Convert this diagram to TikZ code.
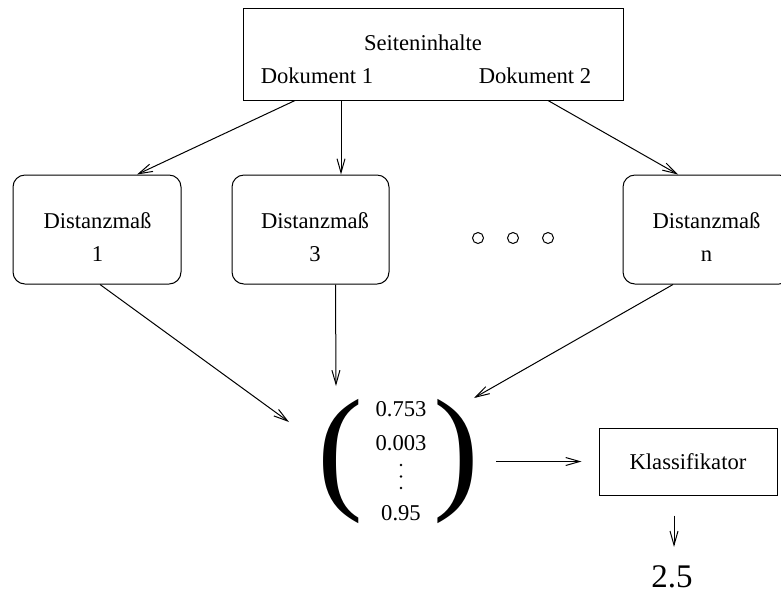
\documentclass[tikz,border=0pt]{standalone}
\usepackage{fontspec}
\setmainfont{Liberation Serif}
\usepackage{tikz}
\usetikzlibrary{arrows.meta}

\begin{document}
\begin{tikzpicture}[x=0.5pt,y=-0.5pt,line width=0.5pt,
    font=\fontsize{11.3}{16.7}\selectfont,
    arr/.style={-{Straight Barb[length=7pt,width=4pt]}},
    dbox/.style={draw,rounded corners=6pt,minimum width=84pt,minimum height=54.5pt,inner sep=0pt},
    sbox/.style={draw,inner sep=0pt},
    txt/.style={inner sep=0pt,align=center}]
    \useasboundingbox (0,0) rectangle (781,591);

    % Seiteninhalte
    \node[sbox,minimum width=190pt,minimum height=46pt] (top) at (433,54) {};
    \node[txt] (seite) at (423,42.5) {Seiteninhalte};
    \node[txt] (dok1) at (317,75.5) {Dokument 1};
    \node[txt] (dok2) at (535,75.5) {Dokument 2};

    % Distanzmasse
    \node[dbox] (d1) at (97,229.5) {};
    \node[dbox,minimum width=78.5pt] (d3) at (310.5,229.5) {};
    \node[dbox] (dn) at (707,229.5) {};
    \node[txt] (d1txt) at (97.5,237.2) {Distanzmaß\\1};
    \node[txt] (d3txt) at (315,237.2) {Distanzmaß\\3};
    \node[txt] (dntxt) at (706.5,237.2) {Distanzmaß\\n};
    \foreach \x in {478,513,548}
        \draw (\x,238) circle (5.5);

    % Vektor
    \node[txt,font=\fontsize{68.6}{70}\selectfont] (lpar) at (340,461.5) {(};
    \node[txt,font=\fontsize{68.6}{70}\selectfont] (rpar) at (456.3,461.5) {)};
    \node[txt] (w1) at (401,409) {0.753};
    \node[txt] (w2) at (401,443) {0.003};
    \node[txt] (wn) at (401,513) {0.95};
    \foreach \y in {465,476.5,488}
        \fill (401,\y) circle (1.3);
    \coordinate (v1) at (289,422);
    \coordinate (v3) at (336,386);
    \coordinate (vn) at (474,398);
    \coordinate (vout) at (496,461.5);

    % Klassifikator
    \node[sbox,minimum width=89pt,minimum height=33.5pt] (klass) at (688,461.5) {Klassifikator};
    \node[txt,font=\fontsize{16.5}{18}\selectfont] (res) at (672,576.5) {2.5};

    % Pfeile
    \draw[arr] ([xshift=-69pt]top.south) -- ([xshift=20pt]d1.north);
    \draw[arr] ([xshift=-46pt]top.south) -- ([xshift=15.25pt]d3.north);
    \draw[arr] ([xshift=57.5pt]top.south) -- ([xshift=-14.5pt]dn.north);
    \draw[arr] ([xshift=1.5pt]d1.south) -- (v1);
    \draw[arr] ([xshift=12.5pt]d3.south) -- (v3);
    \draw[arr] ([xshift=-17pt]dn.south) -- (vn);
    \draw[arr,shorten >=8.5pt] (vout) -- (klass);
    \draw[arr,shorten <=10pt,shorten >=9pt] ([xshift=-7pt]klass.south) -- ([xshift=-7pt]klass.south |- res.north);
\end{tikzpicture}
\end{document}
